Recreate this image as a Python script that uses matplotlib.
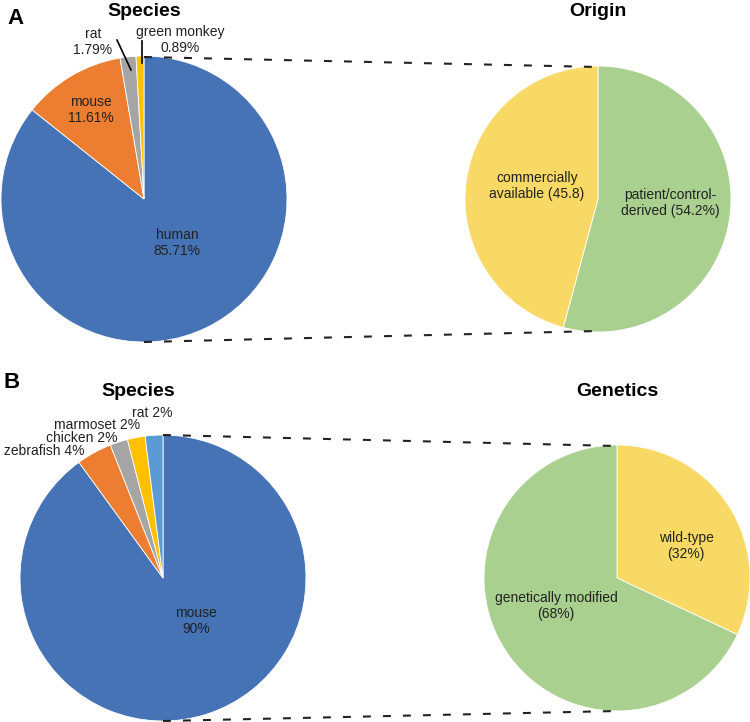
import matplotlib
matplotlib.use("Agg")
import matplotlib.pyplot as plt

plt.rcParams['font.family'] = ['Liberation Sans', 'DejaVu Sans']

# panel A data
a_species = ['human', 'mouse', 'rat', 'green monkey']
a_species_pct = [85.71, 11.61, 1.79, 0.89]
a_origin = ['patient/control-\nderived (54.2%)', 'commercially\navailable (45.8)']
a_origin_pct = [54.2, 45.8]

# panel B data
b_species = ['mouse', 'zebrafish', 'chicken', 'marmoset', 'rat']
b_species_pct = [90, 4, 2, 2, 2]
b_genetics = ['wild-type\n(32%)', 'genetically modified\n(68%)']
b_genetics_pct = [32, 68]

BLUE = '#4672B6'
ORANGE = '#ED7D31'
GRAY = '#A5A5A5'
GOLD = '#FFC000'
LBLUE = '#5B9BD5'
GREEN = '#A9D08E'
YELLOW = '#F9D965'
TXT = '#222222'

W, H = 750, 722
fig = plt.figure(figsize=(W / 100, H / 100), dpi=100)
ax = fig.add_axes([0, 0, 1, 1])


def Y(y):
    # pixel rows are counted from the top of the picture
    return H - y


def pie(values, colors, cx, cy, r):
    ax.pie(values, colors=colors, startangle=90, counterclock=False,
           center=(cx, Y(cy)), radius=r,
           wedgeprops=dict(edgecolor='white', linewidth=0.6))


def label(x, y, s, ha='center', **kw):
    ax.text(x, Y(y), s, ha=ha, va='center', fontsize=10, color=TXT,
            linespacing=1.2, **kw)


def title(x, y, s, size=14):
    ax.text(x, Y(y), s, ha='center', va='center', fontsize=size,
            fontweight='bold', color='black')


def dashed(x0, y0, x1, y1):
    ax.plot([x0, x1], [Y(y0), Y(y1)], color='#222222', lw=1.5,
            dashes=(3.8, 5.8), solid_capstyle='butt')


# ---- panel A ----
pie(a_species_pct, [BLUE, ORANGE, GRAY, GOLD], 144, 199, 143)
pie(a_origin_pct, [GREEN, YELLOW], 598, 199, 133)
dashed(144, 57, 598, 67)
dashed(144, 342, 598, 331)

label(177, 243, a_species[0] + '\n%.2f%%' % a_species_pct[0])
label(91, 110, a_species[1] + '\n%.2f%%' % a_species_pct[1])
label(93, 42, a_species[2] + '\n%.2f%%' % a_species_pct[2])
label(180, 40, a_species[3] + '\n%.2f%%' % a_species_pct[3])
ax.plot([117, 131], [Y(40), Y(70)], color='black', lw=1.2)
ax.plot([142, 142], [Y(41), Y(63)], color='black', lw=1.2)

label(670, 203, a_origin[0])
label(537, 186, a_origin[1])

title(144, 11, 'Species')
title(598, 11, 'Origin')
title(15, 18, 'A', 16)

# ---- panel B ----
pie(b_species_pct, [BLUE, ORANGE, GRAY, GOLD, LBLUE], 163, 578, 143)
pie(b_genetics_pct, [YELLOW, GREEN], 617, 578, 133)
dashed(163, 435, 617, 446)
dashed(163, 721, 617, 711)

label(196, 621, b_species[0] + '\n%d%%' % b_species_pct[0])
label(173, 413, '%s %d%%' % (b_species[4], b_species_pct[4]), ha='right')
label(140, 425, '%s %d%%' % (b_species[3], b_species_pct[3]), ha='right')
label(117, 438, '%s %d%%' % (b_species[2], b_species_pct[2]), ha='right')
label(85, 451, '%s %d%%' % (b_species[1], b_species_pct[1]), ha='right')

label(686, 546, b_genetics[0])
label(556, 606, b_genetics[1])

title(138, 392, 'Species')
title(617, 392, 'Genetics')
title(12, 383, 'B', 16)

# pie() resets the limits, so set them last
ax.set_xlim(0, W)
ax.set_ylim(0, H)
ax.set_aspect('equal')
ax.axis('off')

fig.savefig('out.png', dpi=100)
